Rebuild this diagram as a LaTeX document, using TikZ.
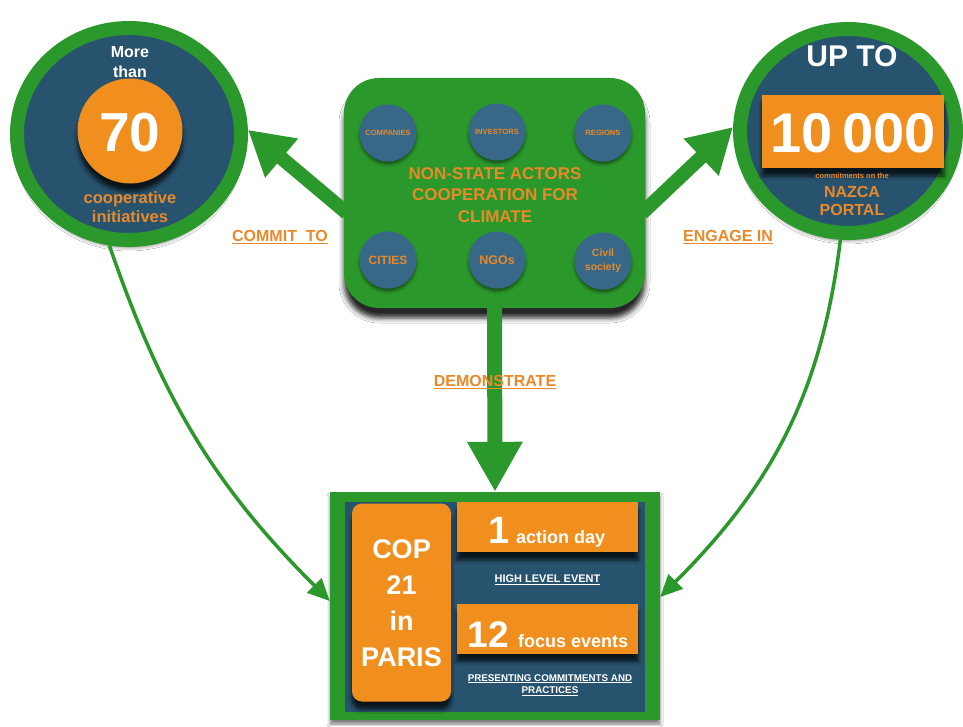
\documentclass[tikz,border=0pt]{standalone}
\usepackage{fontspec}
\setmainfont{Liberation Sans}
\usetikzlibrary{arrows.meta,shadows.blur,calc,shapes.geometric}
\definecolor{cgreen}{HTML}{2B982B}
\definecolor{cblue}{HTML}{28536F}
\definecolor{cblue2}{HTML}{386888}
\definecolor{corange}{HTML}{F18F1E}
\definecolor{ctext}{HTML}{E8892A}
\newcommand{\fsz}[1]{\fontsize{#1}{#1}\selectfont}
\newcommand{\fszb}[2]{\fontsize{#1}{#2}\selectfont}
\tikzset{
  ring/.style={ellipse, fill=cblue, draw=cgreen, line width=14pt, inner sep=0pt,
    blur shadow={shadow xshift=0pt, shadow yshift=-7pt, shadow blur radius=4pt, shadow opacity=60}},
  actor/.style={circle, fill=cblue2, minimum size=57pt, inner sep=0pt, text=ctext, font=\bfseries,
    align=center, blur shadow={shadow xshift=0pt, shadow yshift=-3pt, shadow blur radius=2pt, shadow opacity=40}},
  obox/.style={fill=corange, inner sep=0pt,
    blur shadow={shadow xshift=0pt, shadow yshift=-8pt, shadow blur radius=4pt, shadow opacity=75}},
  bigarrow/.style={draw=cgreen, line width=14pt, -{Triangle[width=48pt,length=44pt]}},
  thinarrow/.style={draw=cgreen, line width=3.5pt, -{Triangle[width=20pt,length=22pt]}},
  lbl/.style={text=ctext, font=\bfseries\fsz{16}},
  wtxt/.style={text=white, font=\bfseries, align=center},
  otxt/.style={text=ctext, font=\bfseries, align=center}
}
\begin{document}
\begin{tikzpicture}[x=1pt,y=-1pt]
\useasboundingbox[fill=white] (0,0) rectangle (963,727);

% left circle
\node[ring, minimum width=224pt, minimum height=212pt] (lc) at (129,134) {};
\node[circle, fill=corange, minimum size=105pt, inner sep=0pt,
  blur shadow={shadow xshift=0pt, shadow yshift=-8pt, shadow blur radius=4pt, shadow opacity=75}] (c70) at (130,131) {};
\node[wtxt, font=\bfseries\fsz{55}] (t70) at (130,133) {70};
\node[wtxt, font=\bfseries\fszb{16}{20}] (more) at (130,62) {More\\than};
\node[otxt, font=\bfseries\fszb{16.5}{19}] (coop) at (130,207) {cooperative\\initiatives};

% right circle
\node[ring, minimum width=216pt, minimum height=204pt] (rc) at (848,131) {};
\node[wtxt, font=\bfseries\fsz{30}] (upto) at (852,56) {UP TO};
\node[obox, minimum width=182pt, minimum height=73pt] (ob10) at (853,131.5) {};
\node[wtxt, font=\bfseries\fsz{56}] (t10) at (853,133) {10\,000};
\node[otxt, font=\bfseries\fsz{7.5}] (commit) at (852,176) {commitments on the};
\node[otxt, font=\bfseries\fszb{16}{18}] (nazca) at (852,201) {NAZCA\\PORTAL};

% central box
\node[fill=cgreen, rounded corners=35pt, minimum width=301pt, minimum height=230pt, inner sep=0pt,
  blur shadow={shadow xshift=0pt, shadow yshift=-10pt, shadow blur radius=5pt, shadow opacity=85}] (ns) at (494.5,193) {};
\node[actor, font=\bfseries\fsz{7.6}] (comp) at (388,133) {COMPANIES};
\node[actor, font=\bfseries\fsz{7.6}] (inv) at (497,132) {INVESTORS};
\node[actor, font=\bfseries\fsz{7.6}] (reg) at (603,133) {REGIONS};
\node[actor, font=\bfseries\fsz{12}] (city) at (388,260) {CITIES};
\node[actor, font=\bfseries\fsz{12.5}] (ngo) at (497,260) {NGOs};
\node[actor, font=\bfseries\fszb{10.5}{14}] (civ) at (603,261) {Civil\\society};
\node[otxt, font=\bfseries\fszb{17}{21.5}] (nstxt) at (495,195) {NON-STATE ACTORS\\COOPERATION FOR\\CLIMATE};

% bottom box
\node[fill=cgreen, minimum width=330pt, minimum height=228pt, inner sep=0pt,
  blur shadow={shadow xshift=0pt, shadow yshift=-4pt, shadow blur radius=3pt, shadow opacity=50}] (cop) at (495,606) {};
\node[fill=cblue, minimum width=300pt, minimum height=210pt, inner sep=0pt] (copin) at (495,607) {};
\node[obox, rounded corners=10pt, minimum width=99pt, minimum height=198pt] (paris) at (401.5,602.5) {};
\node[wtxt, font=\bfseries\fszb{27}{36}, align=center] (paristxt) at (401.5,603)
  {COP\\21\\in\\PARIS};
\node[obox, minimum width=181pt, minimum height=50pt] (ob1) at (547.5,527) {};
\node[wtxt, anchor=base] (t1) at (547,543) {{\fsz{38}1\hspace{6pt}}{\fsz{18}action day}};
\node[wtxt, font=\bfseries\fsz{11}] (hle) at (547.5,580) {\underline{HIGH LEVEL EVENT}};
\node[obox, minimum width=181pt, minimum height=50pt] (ob2) at (547.5,628.5) {};
\node[wtxt, anchor=base] (t12) at (548,647) {{\fsz{37}12\hspace{9pt}}{\fsz{18}focus events}};
\node[wtxt, font=\bfseries\fszb{9.8}{12.5}, align=center] (pres) at (550,685)
  {\underline{PRESENTING COMMITMENTS AND}\\\underline{PRACTICES}};

% big arrows
\draw[bigarrow] ($(ns.west)+(3,20)$) -- (lc.2);
\draw[bigarrow] ($(ns.east)+(-3,20)$) -- (rc.178);
\draw[bigarrow, -{Triangle[width=52pt,length=50pt]}, line width=15pt] (ns.south) -- (cop.north);

% labels
\node[lbl] (l1) at (280,237) {\underline{COMMIT\ \ TO}};
\node[lbl] (l2) at (728,237) {\underline{ENGAGE IN}};
\node[lbl] (l3) at (495,382) {\underline{DEMONSTRATE}};

% thin curved arrows
\draw[thinarrow] (lc.260) to[out=-71, in=135] ($(cop.west)+(0,-5)$);
\draw[thinarrow] (rc.266) to[out=-97, in=45] ($(cop.east)+(0,-9)$);
\end{tikzpicture}
\end{document}
